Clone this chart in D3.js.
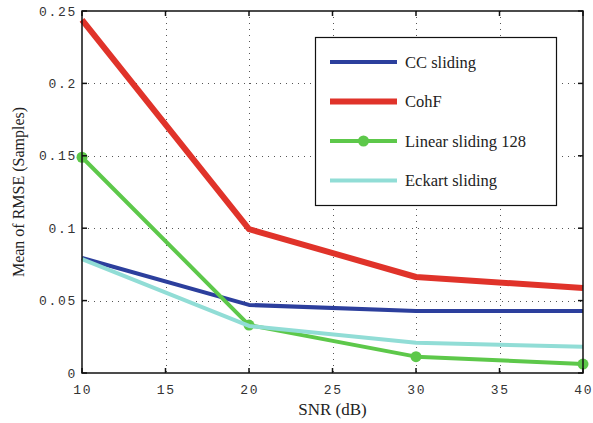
<!DOCTYPE html>
<meta charset="utf-8">
<style>
  body { margin: 0; background: #fff; }
</style>
<svg width="593" height="423"></svg>
<script src="https://d3js.org/d3.v7.min.js"></script>
<script>

var snr = [10, 20, 30, 40];
var ccSliding = [0.0794, 0.0470, 0.0428, 0.0428];
var cohF = [0.2438, 0.0994, 0.0663, 0.0587];
var linearSliding = [0.149, 0.0331, 0.0113, 0.0062];
var eckartSliding = [0.0787, 0.0325, 0.0209, 0.0182];
var xTicks = [10, 15, 20, 25, 30, 35, 40];
var yTicks = [0, 0.05, 0.1, 0.15, 0.2, 0.25];
var yTickLabels = ["0", "0.05", "0.1", "0.15", "0.2", "0.25"];

var series = [
  { name: "CC sliding", values: ccSliding, color: "#2c3f9d", width: 4, marker: false },
  { name: "CohF", values: cohF, color: "#e0332a", width: 6, marker: false },
  { name: "Linear sliding 128", values: linearSliding, color: "#5dc84a", width: 4, marker: true },
  { name: "Eckart sliding", values: eckartSliding, color: "#91ddd6", width: 4, marker: false }
];

var svg = d3.select("svg");
var plotL = 82, plotR = 583, plotT = 11, plotB = 373;

var x = d3.scaleLinear().domain([10, 40]).range([plotL, plotR]);
var y = d3.scaleLinear().domain([0, 0.25]).range([plotB, plotT]);

var mono = "'Liberation Mono', 'DejaVu Sans Mono', monospace";
var serif = "'Liberation Serif', 'DejaVu Serif', serif";

// grid
var grid = svg.append("g").attr("stroke", "#555").attr("stroke-width", 1)
  .attr("stroke-dasharray", "1,5");
grid.selectAll(".gx").data(xTicks.slice(1, -1)).enter().append("line")
  .attr("x1", d => Math.round(x(d)) + 0.5).attr("x2", d => Math.round(x(d)) + 0.5)
  .attr("y1", plotT).attr("y2", plotB);
grid.selectAll(".gy").data(yTicks.slice(1, -1)).enter().append("line")
  .attr("y1", d => Math.round(y(d)) + 0.5).attr("y2", d => Math.round(y(d)) + 0.5)
  .attr("x1", plotL).attr("x2", plotR);

// lines
var line = d3.line().x((d, i) => x(snr[i])).y(d => y(d));
var plot = svg.append("g");
series.forEach(function(s) {
  plot.append("path").datum(s.values)
    .attr("fill", "none")
    .attr("stroke", s.color)
    .attr("stroke-width", s.width)
    .attr("stroke-linejoin", "round")
    .attr("d", line);
  if (s.marker) {
    plot.selectAll(null).data(s.values).enter().append("circle")
      .attr("cx", (d, i) => x(snr[i])).attr("cy", d => y(d))
      .attr("r", 5.5).attr("fill", s.color);
  }
});

// frame and ticks
var axes = svg.append("g").attr("stroke", "#111").attr("stroke-width", 1.5);
axes.append("rect").attr("x", plotL).attr("y", plotT)
  .attr("width", plotR - plotL).attr("height", plotB - plotT).attr("fill", "none");
xTicks.forEach(function(t) {
  var px = x(t);
  axes.append("line").attr("x1", px).attr("x2", px).attr("y1", plotB).attr("y2", plotB - 5);
  axes.append("line").attr("x1", px).attr("x2", px).attr("y1", plotT).attr("y2", plotT + 5);
});
yTicks.forEach(function(t) {
  var py = y(t);
  axes.append("line").attr("y1", py).attr("y2", py).attr("x1", plotL).attr("x2", plotL + 5);
  axes.append("line").attr("y1", py).attr("y2", py).attr("x1", plotR).attr("x2", plotR - 5);
});

// tick labels
svg.append("g").selectAll("text").data(xTicks).enter().append("text")
  .attr("x", d => x(d) + 0.8).attr("y", 394)
  .attr("text-anchor", "middle")
  .attr("font-family", mono).attr("font-size", 13).attr("letter-spacing", 1.7)
  .attr("fill", "#333")
  .text(d => d);
svg.append("g").selectAll("text").data(yTicks).enter().append("text")
  .attr("x", 77).attr("y", d => y(d) + 4.5)
  .attr("text-anchor", "end")
  .attr("font-family", mono).attr("font-size", 13).attr("letter-spacing", 1.7)
  .attr("fill", "#333")
  .text((d, i) => yTickLabels[i]);

// axis titles
svg.append("text").attr("x", x(25)).attr("y", 415)
  .attr("text-anchor", "middle").attr("font-family", serif).attr("font-size", 17)
  .attr("fill", "#222").text("SNR (dB)");
svg.append("text").attr("transform", "translate(24," + ((plotT + plotB) / 2) + ") rotate(-90)")
  .attr("text-anchor", "middle").attr("font-family", serif).attr("font-size", 16)
  .attr("fill", "#222").text("Mean of RMSE (Samples)");

// legend
var legend = svg.append("g");
legend.append("rect").attr("x", 315.5).attr("y", 37.5).attr("width", 241).attr("height", 168)
  .attr("fill", "#fff").attr("stroke", "#111").attr("stroke-width", 1.2);
series.forEach(function(s, i) {
  var ly = 62 + i * 39.5;
  legend.append("line").attr("x1", 330).attr("x2", 397).attr("y1", ly).attr("y2", ly)
    .attr("stroke", s.color).attr("stroke-width", s.width);
  if (s.marker) {
    legend.append("circle").attr("cx", 363.5).attr("cy", ly).attr("r", 5.5).attr("fill", s.color);
  }
  legend.append("text").attr("x", 405).attr("y", ly + 5.5)
    .attr("font-family", serif).attr("font-size", 16.5).attr("fill", "#222")
    .text(s.name);
});

</script>
